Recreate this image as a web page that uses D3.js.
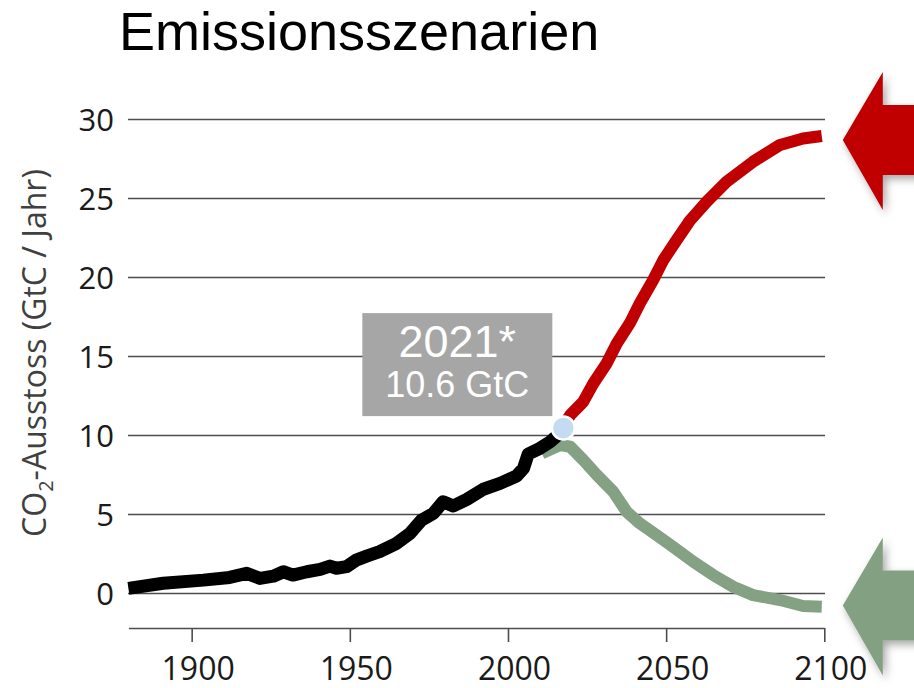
<!DOCTYPE html>
<html>
<head>
<meta charset="utf-8">
<script src="https://cdn.jsdelivr.net/npm/d3@7/dist/d3.min.js"></script>
<style>
  html, body { margin: 0; padding: 0; background: #fff; }
  svg { display: block; }
</style>
</head>
<body>
<svg id="chart" width="914" height="688"></svg>
<script>
// ---------------- DATA ----------------
const titleText = "Emissionsszenarien";
const yTicks = [0, 5, 10, 15, 20, 25, 30];
const xTicks = [1900, 1950, 2000, 2050, 2100];

const histYears  = [1880, 1891, 1903.7, 1912, 1917.4, 1921.6, 1925.8, 1929, 1932, 1936.4, 1940.6, 1943.7, 1945.8, 1949, 1952, 1955.3, 1959.4, 1964.8, 1969, 1972.7, 1976.4, 1979.5, 1982.7, 1987, 1992.2, 1997.5, 2002.7, 2004.9, 2006.4, 2010.1, 2013.3, 2016.4, 2017.5];
const histValues = [0.33, 0.65, 0.85, 1.02, 1.28, 0.96, 1.1, 1.38, 1.17, 1.38, 1.53, 1.74, 1.6, 1.7, 2.12, 2.37, 2.65, 3.18, 3.8, 4.65, 5.07, 5.81, 5.54, 5.96, 6.6, 6.97, 7.44, 7.92, 8.83, 9.19, 9.6, 10.14, 10.47];

const highYears  = [2015.5, 2017.5, 2019.7, 2023.8, 2027, 2031.2, 2034.4, 2038.5, 2041.7, 2045.9, 2049.1, 2053.3, 2057.5, 2062.8, 2069.1, 2077.5, 2086, 2093.3, 2099.2];
const highValues = [10.2, 10.6, 11.3, 12.14, 13.3, 14.57, 15.83, 17.1, 18.37, 19.84, 21.1, 22.37, 23.6, 24.8, 26.06, 27.33, 28.39, 28.8, 28.96];

const lowYears  = [2010.7, 2016.5, 2019.7, 2023.8, 2028.1, 2033.3, 2037.5, 2041.7, 2047, 2052.2, 2058.6, 2064.9, 2071.2, 2077.5, 2086, 2093.3, 2099.2];
const lowValues = [8.87, 9.4, 9.29, 8.45, 7.5, 6.44, 5.18, 4.44, 3.7, 2.96, 2.01, 1.17, 0.43, -0.1, -0.41, -0.79, -0.83];

const markerYear = 2017.5;
const markerValue = 10.47;
const markerLabel = ["2021*", "10.6 GtC"];
const yAxisTitle = ["CO", "2", "-Ausstoss (GtC / Jahr)"];
const highArrowValue = 28.7;
const lowArrowValue = -0.75;

// ---------------- CHART ----------------
const svg = d3.select("#chart");
const x = d3.scaleLinear().domain([1880, 2100]).range([128.4, 824.3]);
const y = d3.scaleLinear().domain([-2.18, 30]).range([628, 119.5]);

const defs = svg.append("defs");
const f = defs.append("filter").attr("id", "shadow")
  .attr("x", "-30%").attr("y", "-30%").attr("width", "160%").attr("height", "160%");
f.append("feDropShadow").attr("dx", 3).attr("dy", 4).attr("stdDeviation", 4)
  .attr("flood-color", "#000").attr("flood-opacity", 0.35);

// title
svg.append("text")
  .attr("x", 119).attr("y", 50)
  .attr("font-family", "'Liberation Sans', Arial, sans-serif")
  .attr("font-size", 54)
  .attr("fill", "#000")
  .text(titleText);

// gridlines
svg.append("g").selectAll("line").data(yTicks).join("line")
  .attr("x1", x(1880) - 0.4).attr("x2", x(2100) + 0.7)
  .attr("y1", d => y(d)).attr("y2", d => y(d))
  .attr("stroke", "#4d4d4d").attr("stroke-width", 1.6);

// y tick labels
svg.append("g").selectAll("text").data(yTicks).join("text")
  .attr("x", 114).attr("y", d => y(d)).attr("dy", "0.36em")
  .attr("text-anchor", "end")
  .attr("font-family", "'Open Sans', sans-serif")
  .attr("font-size", 31)
  .attr("fill", "#1a1a1a")
  .text(d => d);

// x axis
const xAxis = d3.axisBottom(x).tickValues(xTicks).tickFormat(d3.format("d"))
  .tickSize(14).tickSizeOuter(0).tickPadding(15);
const gx = svg.append("g").attr("transform", `translate(0,${y(-2.18)})`).call(xAxis);
gx.select(".domain").attr("stroke", "#4d4d4d").attr("stroke-width", 1.6);
gx.selectAll(".tick line").attr("stroke", "#4d4d4d").attr("stroke-width", 1.6);
gx.selectAll(".tick text")
  .attr("font-family", "'Open Sans', sans-serif")
  .attr("font-size", 32)
  .attr("fill", "#1a1a1a")
  .attr("dx", 6);

// y axis title
const yt = svg.append("text")
  .attr("transform", "translate(46,353) rotate(-90)")
  .attr("text-anchor", "middle")
  .attr("font-family", "'Open Sans', sans-serif")
  .attr("font-size", 32)
  .attr("fill", "#404040");
yt.append("tspan").text(yAxisTitle[0]);
yt.append("tspan").attr("font-size", 20).attr("dy", 7).text(yAxisTitle[1]);
yt.append("tspan").attr("dy", -7).text(yAxisTitle[2]);

// lines
const line = d3.line().x(d => x(d[0])).y(d => y(d[1])).curve(d3.curveLinear);
function drawLine(years, values, color, w) {
  svg.append("path")
    .datum(years.map((yr, i) => [yr, values[i]]))
    .attr("d", line)
    .attr("fill", "none")
    .attr("stroke", color)
    .attr("stroke-width", w)
    .attr("stroke-linejoin", "round")
    .attr("stroke-linecap", "butt");
}
drawLine(highYears, highValues, "#c00000", 12);
drawLine(lowYears, lowValues, "#85a184", 12);
drawLine(histYears, histValues, "#000000", 13);

// marker
const mx = x(markerYear), my = y(markerValue);
svg.append("circle").attr("cx", mx).attr("cy", my).attr("r", 11.5)
  .attr("fill", "#c5dbf1").attr("stroke", "#fff").attr("stroke-width", 2.5);

// annotation box
const bx = mx - 201, by = my - 115, bw = 190, bh = 103;
svg.append("rect").attr("x", bx).attr("y", by).attr("width", bw).attr("height", bh)
  .attr("fill", "#a6a6a6");
svg.append("text").attr("x", bx + bw / 2).attr("y", by + 44)
  .attr("text-anchor", "middle")
  .attr("font-family", "'Liberation Sans', Arial, sans-serif")
  .attr("font-size", 45).attr("fill", "#fff").text(markerLabel[0]);
svg.append("text").attr("x", bx + bw / 2).attr("y", by + 84)
  .attr("text-anchor", "middle")
  .attr("font-family", "'Liberation Sans', Arial, sans-serif")
  .attr("font-size", 36).attr("fill", "#fff").text(markerLabel[1]);

// arrows
function arrow(value, color) {
  const tx = x(2100) + 18.5, ty = y(value);
  const pts = [
    [tx, ty], [tx + 40, ty - 68], [tx + 40, ty - 35], [tx + 90, ty - 35],
    [tx + 90, ty + 35], [tx + 40, ty + 35], [tx + 40, ty + 70]
  ];
  svg.append("polygon")
    .attr("points", pts.map(p => p.join(",")).join(" "))
    .attr("fill", color)
    .attr("filter", "url(#shadow)");
}
arrow(highArrowValue, "#c00000");
arrow(lowArrowValue, "#84a083");
</script>
</body>
</html>
